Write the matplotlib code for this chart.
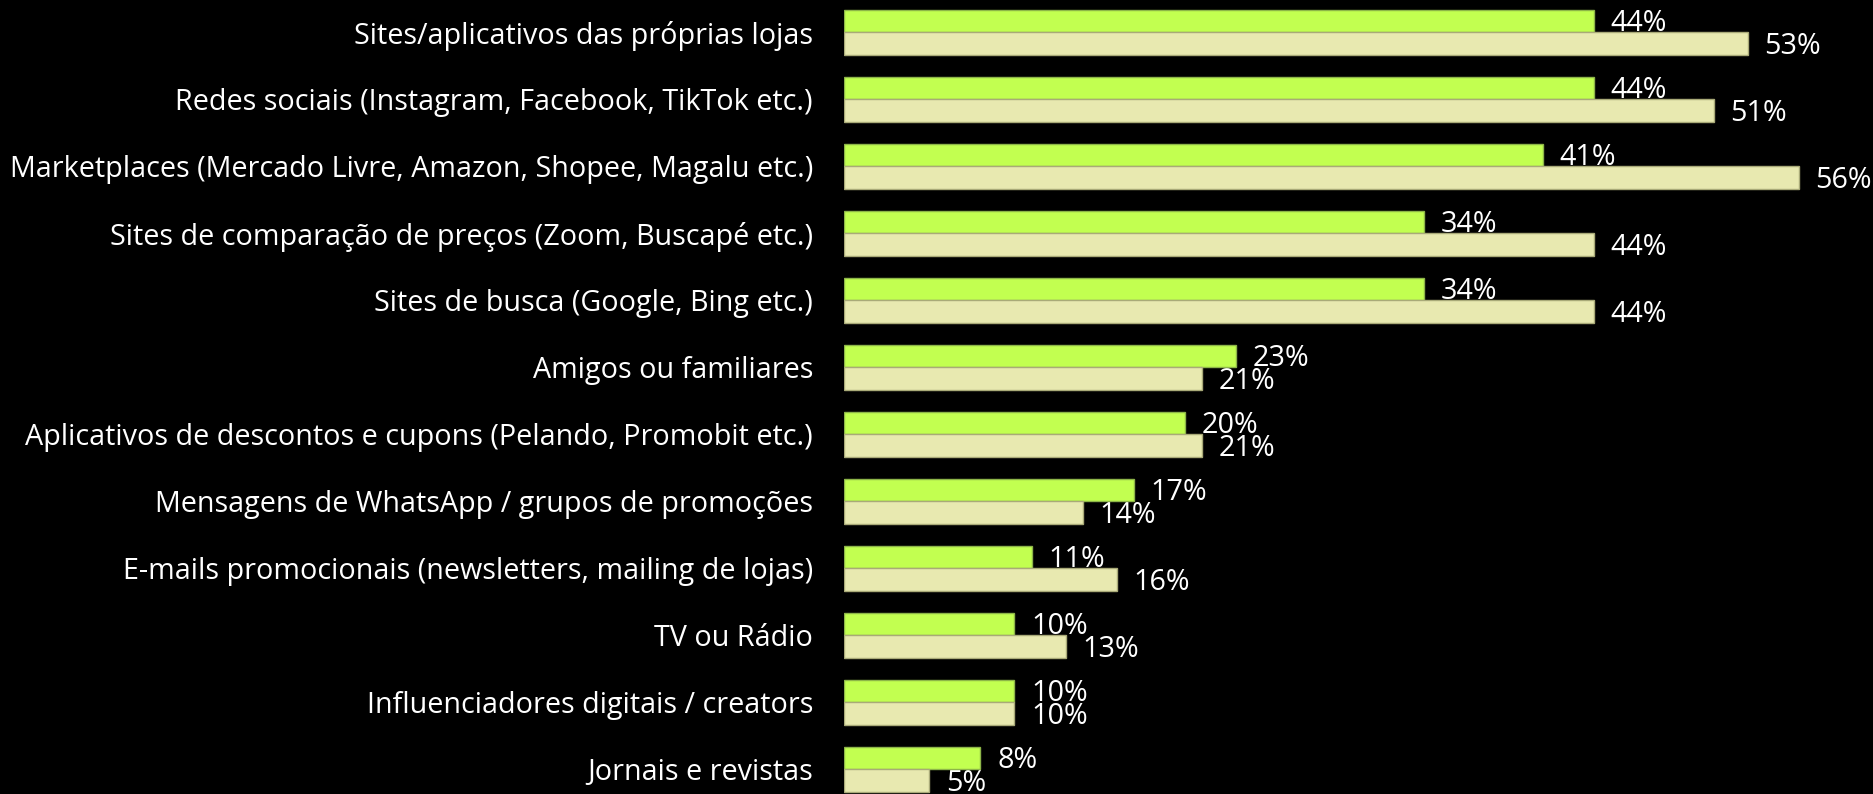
import matplotlib
matplotlib.use("Agg")
import matplotlib.pyplot as plt
import numpy as np

categories = [
    "Sites/aplicativos das próprias lojas",
    "Redes sociais (Instagram, Facebook, TikTok etc.)",
    "Marketplaces (Mercado Livre, Amazon, Shopee, Magalu etc.)",
    "Sites de comparação de preços (Zoom, Buscapé etc.)",
    "Sites de busca (Google, Bing etc.)",
    "Amigos ou familiares",
    "Aplicativos de descontos e cupons (Pelando, Promobit etc.)",
    "Mensagens de WhatsApp / grupos de promoções",
    "E-mails promocionais (newsletters, mailing de lojas)",
    "TV ou Rádio",
    "Influenciadores digitais / creators",
    "Jornais e revistas",
]
series_green = [44, 44, 41, 34, 34, 23, 20, 17, 11, 10, 10, 8]
series_cream = [53, 51, 56, 44, 44, 21, 21, 14, 16, 13, 10, 5]

GREEN = "#C2FF50"
GREEN_EDGE = "#8DB548"
CREAM = "#E8E9B0"
CREAM_EDGE = "#A9AA78"

plt.rcParams["font.family"] = ["Open Sans", "DejaVu Sans"]

W, H, DPI = 1874, 794, 100
fig = plt.figure(figsize=(W / DPI, H / DPI), dpi=DPI, facecolor="black")

x0_px = 844
px_per_unit = 17.05
ax = fig.add_axes([x0_px / W, 0, 1 - x0_px / W, 1])
ax.set_facecolor("black")
ax.set_xlim(0, (W - x0_px) / px_per_unit)

step_px = 67.0
first_center_px = 32.1
ax.set_ylim((H - first_center_px) / step_px, -first_center_px / step_px)

y = np.arange(len(categories))
h = 22.5 / step_px

ax.barh(y - h / 2, series_green, height=h, color=GREEN,
        edgecolor=GREEN_EDGE, linewidth=1.0, zorder=3)
ax.barh(y + h / 2, series_cream, height=h, color=CREAM,
        edgecolor=CREAM_EDGE, linewidth=1.0, zorder=4)

# Size the text so the longest category name spans ~785 px
renderer = fig.canvas.get_renderer()
probe = fig.text(0, 0, max(categories, key=len), fontsize=18)
wpx = probe.get_window_extent(renderer).width
probe.remove()
lbl_size = 18 * 785 / wpx

for yy, v in zip(y, series_green):
    ax.annotate(f"{v}%", xy=(v, yy - h / 2), xytext=(12, -2),
                textcoords="offset points", ha="left", va="center",
                color="white", fontsize=lbl_size,
                zorder=2, annotation_clip=False)
for yy, v in zip(y, series_cream):
    ax.annotate(f"{v}%", xy=(v, yy + h / 2), xytext=(12, -2),
                textcoords="offset points", ha="left", va="center",
                color="white", fontsize=lbl_size,
                zorder=2, annotation_clip=False)

ax.set_yticks(y)
ax.set_yticklabels(categories, color="white", fontsize=lbl_size)
ax.tick_params(axis="y", length=0, pad=22.3)
ax.set_xticks([])
for s in ax.spines.values():
    s.set_visible(False)

fig.savefig("out.png", dpi=DPI, facecolor="black")
